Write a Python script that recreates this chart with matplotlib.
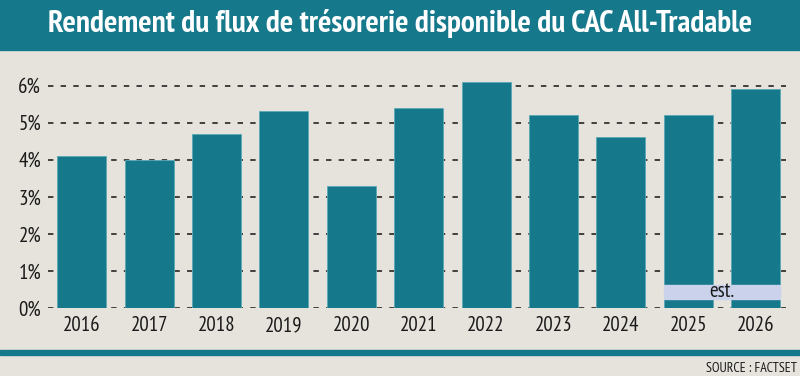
import matplotlib.pyplot as plt
from matplotlib.patches import Rectangle

years = ['2016', '2017', '2018', '2019', '2020', '2021', '2022', '2023', '2024', '2025', '2026']
rendement = [4.1, 4.0, 4.7, 5.3, 3.3, 5.4, 6.1, 5.2, 4.6, 5.2, 5.9]
y_ticks = [0, 1, 2, 3, 4, 5, 6]
est_years = ['2025', '2026']

teal = '#15788b'
fond = '#e6e3dc'
narrow = ['PT Sans Narrow', 'Roboto Condensed', 'DejaVu Sans']

fig = plt.figure(figsize=(8, 3.76), dpi=100, facecolor=fond)

# bandeau du titre
fig.patches.append(Rectangle((0, 1 - 50 / 376), 1, 50 / 376, transform=fig.transFigure,
                             color=teal, zorder=0))
fig.text(0.5, 1 - 24 / 376, 'Rendement du flux de trésorerie disponible du CAC All-Tradable',
         ha='center', va='center', color='white', fontsize=22.5, fontweight='bold',
         family=narrow)

ax = fig.add_axes([48 / 800, 1 - 308 / 376, (786 - 48) / 800, 241 / 376])
ax.set_facecolor(fond)
x = list(range(len(years)))
ax.bar(x, rendement, width=0.726, color=teal, edgecolor='#5aa9b6', linewidth=0.6, zorder=2)

# bande "est."
i0 = years.index(est_years[0])
i1 = years.index(est_years[-1])
ax.add_patch(Rectangle((i0 - 0.363, 0.25), (i1 - i0) + 0.726, 0.37, color='#cbd3ec', zorder=3))
ax.text((i0 + i1) / 2, 0.44, 'est.', ha='center', va='center', fontsize=15,
        family=narrow, color='#1a1a1a', zorder=4)

ax.set_xlim(-0.5, 10.45)
ax.set_ylim(0, 6.5)
ax.set_yticks(y_ticks)
ax.set_yticklabels([f'{v}%' for v in y_ticks], family=narrow, fontsize=15)
ax.set_xticks(x)
ax.set_xticklabels(years, family=narrow, fontsize=15)
ax.tick_params(length=0, pad=5, colors='#1a1a1a')
ax.tick_params(axis='x', pad=6)
for s in ax.spines.values():
    s.set_visible(False)
ax.grid(axis='y', color='#333333', linestyle=(0, (3, 4)), linewidth=1.3, zorder=1)
ax.set_axisbelow(True)

# ligne du bas et source
fig.patches.append(Rectangle((0, 1 - 355 / 376), 1, 5 / 376, transform=fig.transFigure,
                             color=teal, zorder=0))
fig.text(0.996, 1 - 368 / 376, 'SOURCE : FACTSET', ha='right', va='center', fontsize=10,
         family=narrow, color='#1a1a1a')

fig.savefig('out.png', dpi=100, facecolor=fond)
